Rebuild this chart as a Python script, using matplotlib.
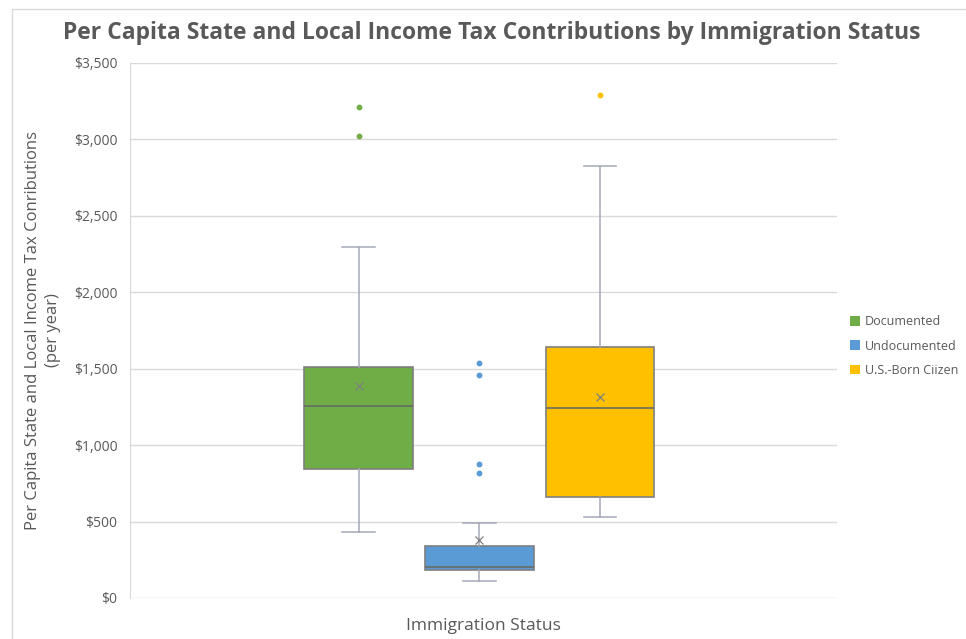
import matplotlib
matplotlib.use('Agg')
import matplotlib.pyplot as plt
from matplotlib.patches import Patch, Rectangle

# valores (dolares por ano)
grupos = ['Documented', 'Undocumented', 'U.S.-Born Ciizen']
minimo = [434, 113, 532]
q1 = [842, 183, 661]
mediana = [1254, 201, 1245]
q3 = [1510, 338, 1645]
maximo = [2299, 489, 2829]
media = [1389, 382, 1313]
outliers = [[3211, 3021], [1536, 1459, 875, 820], [3292]]

cores = ['#70AD47', '#5B9BD5', '#FFC000']
cinza = '#595959'

fig = plt.figure(figsize=(9.66, 6.39), dpi=100)
plt.rcParams['font.family'] = ['Open Sans', 'DejaVu Sans']

# borda da area do grafico
fig.patches.append(Rectangle((12 / 966, -0.1), 1.2, 1.1 - 9 / 639, transform=fig.transFigure,
                             fill=False, edgecolor='#D9D9D9', linewidth=1))

ax = fig.add_axes([130 / 966, 1 - 598 / 639, (836.7 - 130) / 966, (598 - 63) / 639])

stats = []
for i in range(len(grupos)):
    stats.append({'label': grupos[i], 'whislo': minimo[i], 'q1': q1[i], 'med': mediana[i],
                  'q3': q3[i], 'whishi': maximo[i], 'mean': media[i], 'fliers': outliers[i]})

posicoes = [-1, 0, 1]
caixas = ax.bxp(stats, positions=posicoes, widths=0.9, patch_artist=True, showmeans=True,
                showfliers=True, capwidths=0.27,
                boxprops=dict(edgecolor='#7F7F7F', linewidth=1.2),
                medianprops=dict(color='#666B66', linewidth=1.2),
                whiskerprops=dict(color='#A5A9B8', linewidth=1.1),
                capprops=dict(color='#A5A9B8', linewidth=1.1),
                meanprops=dict(marker='x', markeredgecolor='#7F7F7F', markersize=6, markeredgewidth=0.9))
for caixa, cor in zip(caixas['boxes'], cores):
    caixa.set_facecolor(cor)
for fl, cor in zip(caixas['fliers'], cores):
    fl.set_marker('o')
    fl.set_markerfacecolor(cor)
    fl.set_markeredgecolor(cor)
    fl.set_markersize(3.2)

ax.set_xlim(-2.894, 2.961)
ax.set_ylim(0, 3500)
ax.set_yticks(range(0, 3501, 500))
ax.set_yticklabels(['${:,}'.format(v) for v in range(0, 3501, 500)])
ax.set_xticks([])
ax.yaxis.grid(True, color='#D9D9D9', linewidth=1)
ax.set_axisbelow(True)
for lado in ['top', 'right', 'bottom']:
    ax.spines[lado].set_visible(False)
ax.spines['left'].set_color('#D9D9D9')
ax.tick_params(axis='y', length=0, pad=9, labelsize=10, labelcolor=cinza)

fig.text(492 / 966, 1 - 33 / 639, 'Per Capita State and Local Income Tax Contributions by Immigration Status',
         ha='center', va='center', fontsize=16.5, fontweight='bold', color=cinza)
fig.text(483 / 966, 1 - 626 / 639, 'Immigration Status', ha='center', va='center',
         fontsize=12.5, color=cinza)
fig.text(43 / 966, 1 - 330 / 639, 'Per Capita State and Local Income Tax Conributions\n(per year)',
         ha='center', va='center', rotation=90, fontsize=12, color=cinza, linespacing=1.3)

handles = [Patch(facecolor=c, edgecolor='none') for c in cores]
fig.legend(handles, grupos, loc='center left', bbox_to_anchor=(850 / 966, 1 - 346 / 639),
           frameon=False, fontsize=9, handlelength=0.8, handleheight=0.8, handletextpad=0.4,
           labelspacing=0.9, labelcolor=cinza, borderpad=0, borderaxespad=0)

fig.savefig('out.png', dpi=100)
